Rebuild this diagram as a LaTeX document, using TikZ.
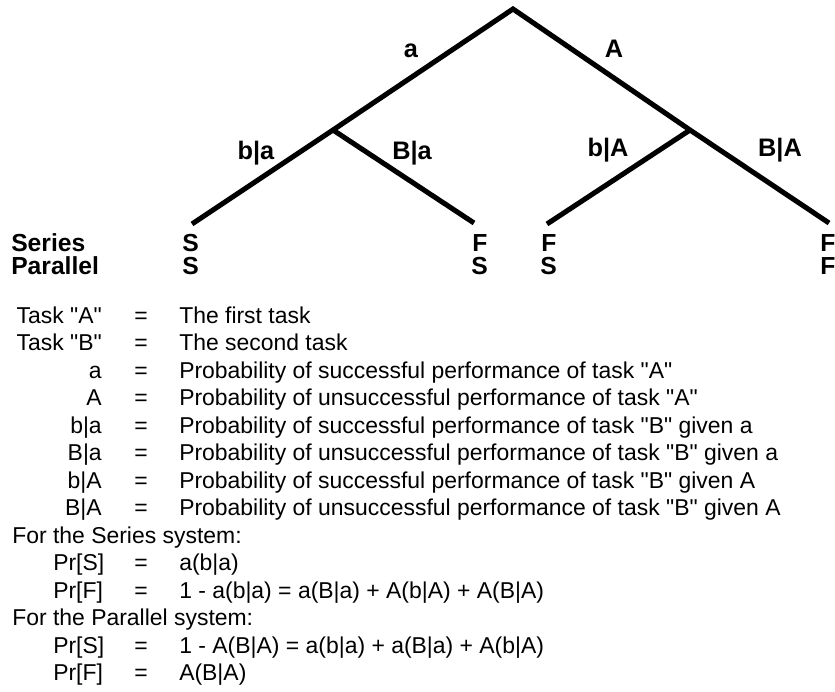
\documentclass[tikz,border=0pt]{standalone}
\usepackage{fontspec}
\newfontfamily\arial{Liberation Sans}
\begin{document}
\begin{tikzpicture}[x=0.75pt,y=-0.75pt,
  branch/.style={line width=3.8pt},
  lbl/.style={font=\arial\fontsize{19}{21}\selectfont\bfseries, inner sep=0pt, anchor=base},
  leaf/.style={font=\arial\fontsize{18.5}{19}\selectfont\bfseries, inner sep=0pt, anchor=base west},
  txt/.style={font=\arial\fontsize{17.2}{20}\selectfont, inner sep=0pt, anchor=base west},
  key/.style={font=\arial\fontsize{17.2}{20}\selectfont, inner sep=0pt, anchor=base east},
  eq/.style={font=\arial\fontsize{17.2}{20}\selectfont, inner sep=0pt, anchor=base}]
\useasboundingbox (0,0) rectangle (835,692);
% tree
\coordinate (root) at (513,9);
\coordinate (ma) at (333,130);
\coordinate (mA) at (690,130);
\coordinate (l1) at (192,224);
\coordinate (l2) at (474,223);
\coordinate (l3) at (547,224);
\coordinate (l4) at (829,223);
\draw[branch, line join=miter] (l1) -- (ma) -- (root) -- (mA) -- (l4);
\draw[branch] (ma) -- (l2);
\draw[branch] (mA) -- (l3);
% branch labels
\node[lbl] (la) at (411,58) {a};
\node[lbl] (lA) at (614,58) {A};
\node[lbl] (lba) at (256,159) {b|a};
\node[lbl] (lBa) at (412,159) {B|a};
\node[lbl] (lbA) at (608,156) {b|A};
\node[lbl] (lBA) at (780,156) {B|A};
% outcomes
\node[leaf] (ser) at (11,251) {Series};
\node[leaf] (par) at (11,274) {Parallel};
\node[leaf] (s1) at (182,251) {S};
\node[leaf] (p1) at (182,274) {S};
\node[leaf] (s2) at (472,251) {F};
\node[leaf] (p2) at (471,274) {S};
\node[leaf] (s3) at (541,251) {F};
\node[leaf] (p3) at (540,274) {S};
\node[leaf] (s4) at (820,251) {F};
\node[leaf] (p4) at (820,274) {F};
% definitions
\node[key] (k1) at (102,323) {Task "A"};
\node[eq]  (e1) at (141,323) {=};
\node[txt] (d1) at (179,323) {The first task};
\node[key] (k2) at (102,350.5) {Task "B"};
\node[eq]  (e2) at (141,350.5) {=};
\node[txt] (d2) at (179,350.5) {The second task};
\node[key] (k3) at (102,378) {a};
\node[eq]  (e3) at (141,378) {=};
\node[txt] (d3) at (179,378) {Probability of successful performance of task "A"};
\node[key] (k4) at (102,405.5) {A};
\node[eq]  (e4) at (141,405.5) {=};
\node[txt] (d4) at (179,405.5) {Probability of unsuccessful performance of task "A"};
\node[key] (k5) at (102,433) {b|a};
\node[eq]  (e5) at (141,433) {=};
\node[txt] (d5) at (179,433) {Probability of successful performance of task "B" given a};
\node[key] (k6) at (102,460.5) {B|a};
\node[eq]  (e6) at (141,460.5) {=};
\node[txt] (d6) at (179,460.5) {Probability of unsuccessful performance of task "B" given a};
\node[key] (k7) at (102,488) {b|A};
\node[eq]  (e7) at (141,488) {=};
\node[txt] (d7) at (179,488) {Probability of successful performance of task "B" given A};
\node[key] (k8) at (102,515.5) {B|A};
\node[eq]  (e8) at (141,515.5) {=};
\node[txt] (d8) at (179,515.5) {Probability of unsuccessful performance of task "B" given A};
\node[txt] (h1) at (12,543) {For the Series system:};
\node[txt] (k9) at (53,570.5) {Pr[S]};
\node[eq]  (e9) at (141,570.5) {=};
\node[txt] (d9) at (179,570.5) {a(b|a)};
\node[txt] (k10) at (53,598) {Pr[F]};
\node[eq]  (e10) at (141,598) {=};
\node[txt] (d10) at (179,598) {1 - a(b|a) = a(B|a) + A(b|A) + A(B|A)};
\node[txt] (h2) at (12,625.5) {For the Parallel system:};
\node[txt] (k11) at (53,653) {Pr[S]};
\node[eq]  (e11) at (141,653) {=};
\node[txt] (d11) at (179,653) {1 - A(B|A) = a(b|a) + a(B|a) + A(b|A)};
\node[txt] (k12) at (53,680.5) {Pr[F]};
\node[eq]  (e12) at (141,680.5) {=};
\node[txt] (d12) at (179,680.5) {A(B|A)};
\end{tikzpicture}
\end{document}
